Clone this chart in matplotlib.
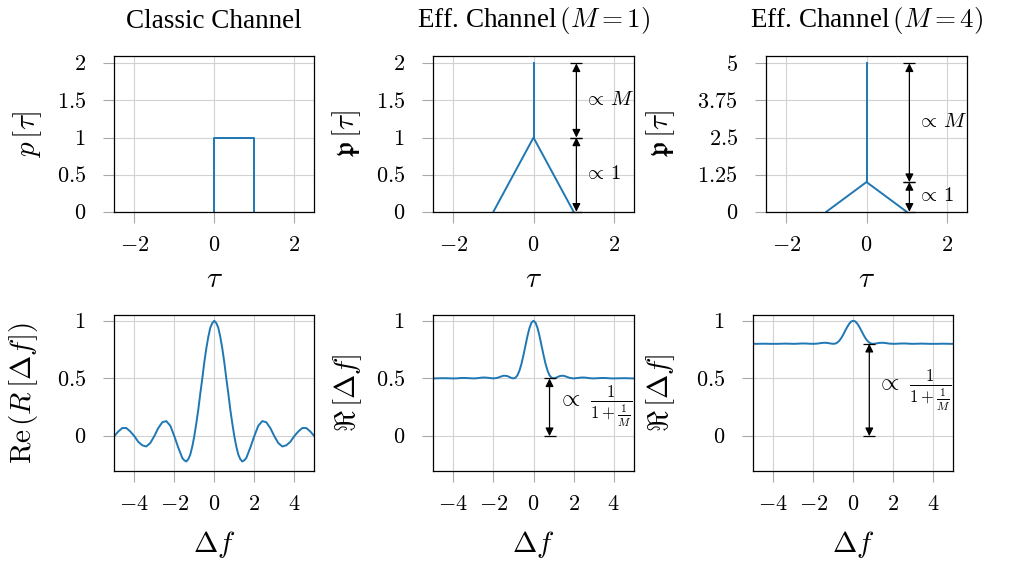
import matplotlib
matplotlib.use("Agg")
import matplotlib.pyplot as plt

# ---- data ----
# top row: power delay profiles (only the visible, non-zero parts)
tau_classic = [0, 0, 1, 1]
p_classic = [0, 1, 1, 0]
tau_tri = [-1, 0, 1]
p_tri = [0, 1, 0]
spike_m1 = [1, 2]
spike_m4 = [1, 5]

# bottom row: correlation over frequency offset
df = [-5.0, -4.8, -4.6, -4.4, -4.2, -4.0, -3.8, -3.6, -3.4, -3.2, -3.0,
      -2.8, -2.6, -2.4, -2.2, -2.0, -1.8, -1.6, -1.5, -1.4, -1.3, -1.2, -1.1, -1.0,
      -0.9, -0.8, -0.7, -0.6, -0.5, -0.4, -0.3, -0.2, -0.1, 0.0,
      0.1, 0.2, 0.3, 0.4, 0.5, 0.6, 0.7, 0.8, 0.9, 1.0,
      1.1, 1.2, 1.3, 1.4, 1.5, 1.6, 1.8, 2.0, 2.2, 2.4, 2.6, 2.8, 3.0,
      3.2, 3.4, 3.6, 3.8, 4.0, 4.2, 4.4, 4.6, 4.8, 5.0]
r_classic = [0.00, 0.04, 0.07, 0.07, 0.04, 0.00, -0.05, -0.08, -0.09, -0.06, 0.00,
             0.07, 0.12, 0.13, 0.09, 0.00, -0.10, -0.19, -0.21, -0.22, -0.20, -0.16, -0.09, 0.00,
             0.11, 0.23, 0.37, 0.50, 0.64, 0.76, 0.86, 0.94, 0.98, 1.00,
             0.98, 0.94, 0.86, 0.76, 0.64, 0.50, 0.37, 0.23, 0.11, 0.00,
             -0.09, -0.16, -0.20, -0.22, -0.21, -0.19, -0.10, 0.00, 0.09, 0.13, 0.12, 0.07, 0.00,
             -0.06, -0.09, -0.08, -0.05, 0.00, 0.04, 0.07, 0.07, 0.04, 0.00]
r_m1 = [0.500, 0.501, 0.502, 0.502, 0.501, 0.500, 0.501, 0.504, 0.504, 0.502, 0.500,
        0.502, 0.507, 0.508, 0.504, 0.500, 0.505, 0.518, 0.523, 0.523, 0.520, 0.512, 0.504, 0.500,
        0.506, 0.527, 0.568, 0.627, 0.703, 0.786, 0.868, 0.938, 0.984, 1.000,
        0.984, 0.938, 0.868, 0.786, 0.703, 0.627, 0.568, 0.527, 0.506, 0.500,
        0.504, 0.512, 0.520, 0.523, 0.523, 0.518, 0.505, 0.500, 0.504, 0.508, 0.507, 0.502, 0.500,
        0.502, 0.504, 0.504, 0.501, 0.500, 0.501, 0.502, 0.502, 0.501, 0.500]
r_m4 = [0.800, 0.800, 0.801, 0.801, 0.800, 0.800, 0.800, 0.801, 0.802, 0.801, 0.800,
        0.801, 0.803, 0.803, 0.801, 0.800, 0.802, 0.807, 0.809, 0.809, 0.808, 0.805, 0.802, 0.800,
        0.802, 0.811, 0.827, 0.851, 0.881, 0.915, 0.947, 0.975, 0.994, 1.000,
        0.994, 0.975, 0.947, 0.915, 0.881, 0.851, 0.827, 0.811, 0.802, 0.800,
        0.802, 0.805, 0.808, 0.809, 0.809, 0.807, 0.802, 0.800, 0.801, 0.803, 0.803, 0.801, 0.800,
        0.801, 0.802, 0.801, 0.800, 0.800, 0.800, 0.801, 0.801, 0.800, 0.800]

titles = ["Classic Channel", r"Eff. Channel$\,(M=1)$", r"Eff. Channel$\,(M=4)$"]
top_ylabels = [r"$p\,[\tau]$", r"$\mathfrak{p}\,[\tau]$", r"$\mathfrak{p}\,[\tau]$"]
bot_ylabels = [r"$\mathrm{Re}\,(R\,[\Delta f])$", r"$\Re\,[\Delta f]$", r"$\Re\,[\Delta f]$"]
top_yticks = [[0, 0.5, 1, 1.5, 2], [0, 0.5, 1, 1.5, 2], [0, 1.25, 2.5, 3.75, 5]]
top_ylim = [2.1, 2.1, 5.25]
tau_ticks = [-2, 0, 2]
df_ticks = [-4, -2, 0, 2, 4]
r_ticks = [0, 0.5, 1]

# ---- style ----
plt.rcParams['mathtext.fontset'] = 'cm'
plt.rcParams['font.family'] = ['Liberation Serif', 'DejaVu Serif']
blue = '#1f77b4'
W, H = 1011, 566

fig = plt.figure(figsize=(W / 100, H / 100), dpi=100)


def px_axes(left, top, right, bottom):
    return fig.add_axes([left / W, 1 - bottom / H, (right - left) / W, (bottom - top) / H])


def style(ax, xticks, yticks):
    ax.set_xticks(xticks)
    ax.set_xticklabels([f"${t:g}$" for t in xticks])
    ax.set_yticks(yticks)
    ax.set_yticklabels([f"${t:g}$" for t in yticks])
    ax.tick_params(direction='out', length=8, width=0.8, color='#a8a8a8', labelsize=16)
    ax.tick_params(axis='y', pad=12.5)
    ax.tick_params(axis='x', pad=10)
    ax.grid(True, color='#d2d2d2', linewidth=0.8)
    ax.set_axisbelow(True)
    for s in ax.spines.values():
        s.set_linewidth(0.9)
        s.set_zorder(5)


def dim_arrow(ax, x, y0, y1, cap):
    ax.annotate('', xy=(x, y0), xytext=(x, y1),
                arrowprops=dict(arrowstyle='<|-|>', color='black', lw=0.9,
                                mutation_scale=12, shrinkA=0, shrinkB=0))
    ax.hlines([y0, y1], x - cap, x + cap, color='black', lw=0.9, zorder=6, clip_on=False)


top_pos = [(114.3, 56, 314.3, 211.7), (433.3, 56, 633.7, 211.7), (766.3, 56, 966.7, 211.7)]
bot_pos = [(114.3, 315, 314.3, 470.7), (433.3, 315, 633.7, 470.7), (753.3, 315, 953.3, 470.7)]
top_yoff = [87, 87, 106]
bot_yoff = [91, 86, 93]

# ---- top row ----
for i in range(3):
    ax = px_axes(*top_pos[i])
    width_px = top_pos[i][2] - top_pos[i][0]
    height_px = top_pos[i][3] - top_pos[i][1]
    if i == 0:
        ax.plot(tau_classic, p_classic, color=blue, lw=1.4)
    else:
        ax.plot(tau_tri, p_tri, color=blue, lw=1.4)
        spike = spike_m1 if i == 1 else spike_m4
        ax.plot([0, 0], spike, color=blue, lw=1.4)
        dim_arrow(ax, 1.07, spike[1], spike[0], 0.15)
        dim_arrow(ax, 1.07, spike[0], 0, 0.15)
        ax.text(1.26, (spike[0] + spike[1]) / 2, r"$\propto\,M$", fontsize=15, va='center', ha='left')
        ax.text(1.26, 0.5, r"$\propto\,1$", fontsize=15, va='center', ha='left')
    ax.set_xlim(-2.5, 2.5)
    ax.set_ylim(0, top_ylim[i])
    style(ax, tau_ticks, top_yticks[i])
    ax.text(0.5, 1 + 35 / height_px, titles[i], transform=ax.transAxes,
            ha='center', va='center', fontsize=19.5)
    ax.text(-top_yoff[i] / width_px, 0.5, top_ylabels[i], transform=ax.transAxes,
            ha='center', va='center', rotation=90, fontsize=21)
    ax.text(0.5, -68 / height_px, r"$\tau$", transform=ax.transAxes,
            ha='center', va='center', fontsize=21)

# ---- bottom row ----
curves = [r_classic, r_m1, r_m4]
for i in range(3):
    ax = px_axes(*bot_pos[i])
    width_px = bot_pos[i][2] - bot_pos[i][0]
    height_px = bot_pos[i][3] - bot_pos[i][1]
    ax.plot(df, curves[i], color=blue, lw=1.4)
    ax.set_xlim(-5, 5)
    ax.set_ylim(-0.3, 1.05)
    style(ax, df_ticks, r_ticks)
    if i > 0:
        level = curves[i][0]
        dim_arrow(ax, 0.8, level, 0, 0.3)
        ax.text(1.15, 0.26 if i == 1 else 0.4,
                r"$\propto\ \frac{1}{1+\frac{1}{M}}$", fontsize=17, va='center', ha='left')
    ax.text(-bot_yoff[i] / width_px, 0.5, bot_ylabels[i], transform=ax.transAxes,
            ha='center', va='center', rotation=90, fontsize=21)
    ax.text(0.5, -74 / height_px, r"$\Delta f$", transform=ax.transAxes,
            ha='center', va='center', fontsize=21)

fig.savefig("out.png", dpi=100)
